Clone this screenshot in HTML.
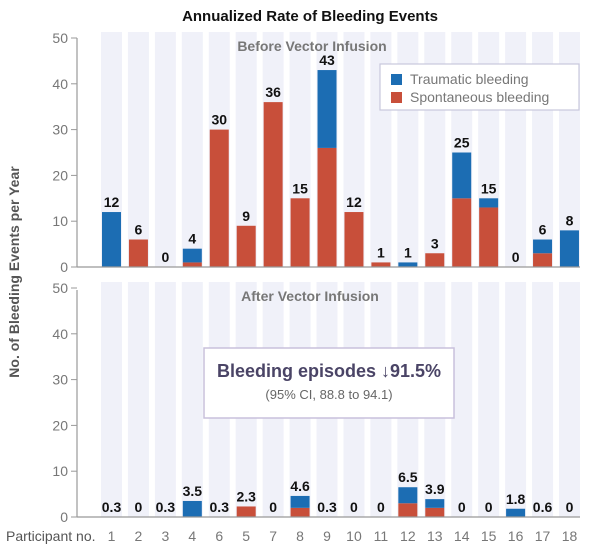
<!DOCTYPE html>
<html><head><meta charset="utf-8"><style>body{margin:0;background:#fff}svg{display:block}text{font-family:"Liberation Sans",sans-serif}</style></head><body>
<svg id="chart" width="600" height="553" xmlns="http://www.w3.org/2000/svg">
<text x="310" y="21" text-anchor="middle" font-size="15" font-weight="bold" fill="#111">Annualized Rate of Bleeding Events</text>
<text transform="translate(19,272) rotate(-90)" text-anchor="middle" font-size="14" font-weight="bold" fill="#555">No. of Bleeding Events per Year</text>
</svg>
<script>
(function(){
const s=document.getElementById('chart');const NS="http://www.w3.org/2000/svg";
function el(t,a,txt){const e=document.createElementNS(NS,t);for(const k in a)e.setAttribute(k,a[k]);if(txt!==undefined)e.textContent=txt;s.appendChild(e);return e;}
const sc=4.58, x0=102, dx=26.94, bw=19;
const panels=[{base:267,top:38,stripeTop:32,stripeBot:267},{base:517,top:290,stripeTop:282,stripeBot:517}];
panels.forEach(p=>{for(let i=0;i<18;i++)el('rect',{x:x0+i*dx-1,y:p.stripeTop,width:bw+2,height:p.stripeBot-p.stripeTop,fill:'#f0f1f9'});});
const topData=[[0,12,'12'],[6,0,'6'],[0,0,'0'],[1,3,'4'],[30,0,'30'],[9,0,'9'],[36,0,'36'],[15,0,'15'],[26,17,'43'],[12,0,'12'],[1,0,'1'],[0,1,'1'],[3,0,'3'],[15,10,'25'],[13,2,'15'],[0,0,'0'],[3,3,'6'],[0,8,'8']];
const botData=[[0,0,'0.3'],[0,0,'0'],[0,0,'0.3'],[0,3.5,'3.5'],[0,0,'0.3'],[2.3,0,'2.3'],[0,0,'0'],[2,2.6,'4.6'],[0,0,'0.3'],[0,0,'0'],[0,0,'0'],[3,3.5,'6.5'],[2,1.9,'3.9'],[0,0,'0'],[0,0,'0'],[0,1.8,'1.8'],[0,0,'0.6'],[0,0,'0']];
[[topData,panels[0]],[botData,panels[1]]].forEach(function(pair){const d=pair[0],p=pair[1];
d.forEach((v,i)=>{const x=x0+i*dx;const r=v[0]*sc,b=v[1]*sc;
if(r)el('rect',{x:x,y:p.base-r,width:bw,height:r,fill:'#c84f3a'});
if(b)el('rect',{x:x,y:p.base-r-b,width:bw,height:b,fill:'#1c6db3'});
el('text',{x:x+bw/2,y:p.base-r-b-5,'text-anchor':'middle','font-size':14,'font-weight':'bold',fill:'#111'},v[2]);});
el('line',{x1:77,y1:p.top,x2:77,y2:p.base,stroke:'#999','stroke-width':1.2});
el('line',{x1:77,y1:p.base,x2:580,y2:p.base,stroke:'#999','stroke-width':1.2});
for(let k=0;k<=5;k++){const y=p.base-k*10*sc;el('line',{x1:71,y1:y,x2:77,y2:y,stroke:'#999'});
el('text',{x:68,y:y+5,'text-anchor':'end','font-size':14,fill:'#777'},String(k*10));}
});
const lbl=['1','2','3','4','6','5','7','8','9','10','11','12','13','14','15','16','17','18'];
lbl.forEach((t,i)=>el('text',{x:x0+i*dx+bw/2,y:541,'text-anchor':'middle','font-size':14,fill:'#777'},t));
el('text',{x:6,y:541,'font-size':14,fill:'#555'},'Participant no.');
el('text',{x:312,y:51,'text-anchor':'middle','font-size':14,'font-weight':'bold',fill:'#777'},'Before Vector Infusion');
el('text',{x:310,y:301,'text-anchor':'middle','font-size':14,'font-weight':'bold',fill:'#777'},'After Vector Infusion');
el('rect',{x:380,y:64,width:199,height:46,fill:'#fff',stroke:'#c8c8dc','stroke-width':1.2});
el('rect',{x:391,y:74,width:11,height:11,fill:'#1c6db3'});
el('rect',{x:391,y:92,width:11,height:11,fill:'#c84f3a'});
el('text',{x:410,y:84,'font-size':14,fill:'#777'},'Traumatic bleeding');
el('text',{x:410,y:102,'font-size':14,fill:'#777'},'Spontaneous bleeding');
el('rect',{x:204,y:348,width:250,height:70,fill:'#fff',stroke:'#c8c0dc','stroke-width':1.5});
el('text',{x:329,y:377,'text-anchor':'middle','font-size':18,'font-weight':'bold',fill:'#4a4466'},'Bleeding episodes \u219391.5%');
el('text',{x:329,y:399,'text-anchor':'middle','font-size':13,fill:'#666'},'(95% CI, 88.8 to 94.1)');
})();
</script>
</body></html>
